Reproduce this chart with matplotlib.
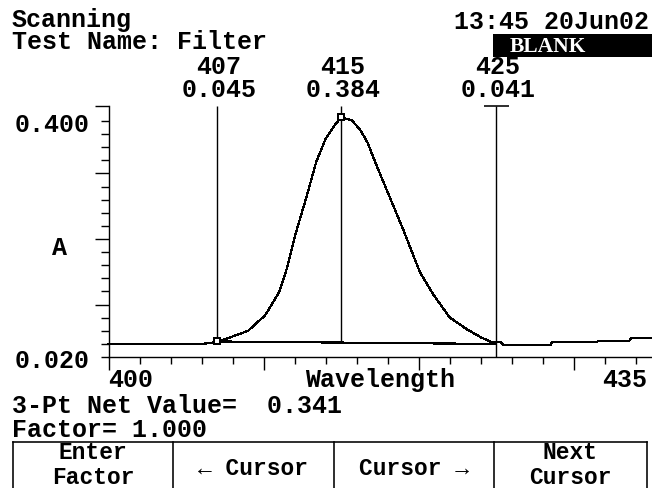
import matplotlib
matplotlib.use("Agg")
import matplotlib.pyplot as plt
import numpy as np
from matplotlib.lines import Line2D
from matplotlib.patches import Rectangle
import matplotlib.transforms as mtransforms

# ---------------- data ----------------
wavelength = [400, 402, 404, 406, 407, 408, 409, 410.1, 411, 411.5, 412.1, 412.8,
              413.4, 414, 414.5, 415, 415.7, 416.2, 416.7, 417.3, 418.2, 419,
              420.1, 421, 422, 423.1, 424, 424.7, 425.3, 425.5, 428.5, 428.6,
              431.5, 431.6, 433.6, 433.7, 435]
absorbance = [0.041, 0.041, 0.041, 0.041, 0.044, 0.053, 0.062, 0.087, 0.124, 0.162,
              0.221, 0.280, 0.334, 0.371, 0.390, 0.406, 0.401, 0.387, 0.366, 0.328,
              0.274, 0.226, 0.156, 0.119, 0.084, 0.065, 0.052, 0.044, 0.044, 0.039,
              0.039, 0.044, 0.044, 0.046, 0.046, 0.050, 0.050]
cursor_wl = [407, 415, 425]
cursor_abs = [0.045, 0.384, 0.041]
x_min, x_max = 400, 435
y_min, y_max = 0.020, 0.400
x_major_ticks = [400, 410, 420, 430]
x_minor_ticks = list(range(402, 435, 2))
x_tick_labels = ["400", "435"]
y_tick_labels = ["0.020", "0.400"]
header_left = ["Scanning", "Test Name: Filter"]
timestamp = "13:45 20Jun02"
status = "BLANK"
net_value = 0.341
factor = 1.000
buttons = [["Enter", "Factor"], ["\u2190 Cursor"], ["Cursor \u2192"], ["Next", "Cursor"]]

# ---------------- layout ----------------
W, H = 652, 489
fig = plt.figure(figsize=(W / 100, H / 100), dpi=100)
fig.patch.set_facecolor("white")


def fx(px):
    return px / W


def fy(py):
    return 1 - py / H


PX = 0.72  # points per pixel
mono = dict(family=["Liberation Mono", "DejaVu Sans Mono"], weight="bold", size=18)
mono_btn = dict(mono, size=16.5)

ax_left, ax_right, ax_top, ax_bottom = 108.5, 651.0, 107.0, 358.0
ax = fig.add_axes([fx(ax_left), fy(ax_bottom), (ax_right - ax_left) / W,
                   (ax_bottom - ax_top) / H])
ax.set_facecolor("white")
# 0.400 sits 236 px above 0.020 while the axis line reaches 251 px
y_top = y_min + (y_max - y_min) * (ax_bottom - ax_top) / (ax_bottom - 122.0)
ax.set_xlim(x_min, x_max)
ax.set_ylim(y_min, y_top)

for s in ["top", "right"]:
    ax.spines[s].set_visible(False)
for s in ["left", "bottom"]:
    ax.spines[s].set_linewidth(1.4 * PX)
    ax.spines[s].set_color("black")

minor_y = np.linspace(y_min, y_max, 19)
ax.set_yticks(list(minor_y[[4, 9, 14]]) + [y_top])
ax.set_yticks(minor_y, minor=True)
ax.set_xticks(x_major_ticks)
ax.set_xticks(x_minor_ticks, minor=True)
ax.set_xticklabels([])
ax.set_yticklabels([])
ax.tick_params(which="major", direction="out", length=14 * PX, width=1.4 * PX, color="black")
ax.tick_params(which="minor", direction="out", length=8 * PX, width=1.4 * PX, color="black")
ax.tick_params(axis="x", which="major", length=13.5 * PX)
ax.tick_params(axis="x", which="minor", length=7 * PX)

# spectrum
ax.plot(wavelength, absorbance, color="black", lw=1.2 * PX, antialiased=False,
        clip_on=False, zorder=3)

# baseline between outer cursors
ax.plot([cursor_wl[0], cursor_wl[2]], [cursor_abs[0], cursor_abs[2]], color="black",
        lw=1.2 * PX, antialiased=False, zorder=3)

# cursors
base_mid = np.interp(cursor_wl[1], [cursor_wl[0], cursor_wl[2]], [cursor_abs[0], cursor_abs[2]])
peak_val = np.interp(cursor_wl[1], wavelength, absorbance)
ax.vlines(cursor_wl[0], cursor_abs[0], y_top, color="black", lw=1.4 * PX, zorder=4)
ax.vlines(cursor_wl[1], base_mid, y_top, color="black", lw=1.4 * PX, zorder=4)
ax.vlines(cursor_wl[2], y_min, y_top, color="black", lw=1.4 * PX, zorder=4)
ax.plot([cursor_wl[2]], [y_top], marker="_", ms=25 * PX, mew=1.6 * PX, color="black",
        clip_on=False, zorder=5)
ax.plot([cursor_wl[0], cursor_wl[1]], [cursor_abs[0], peak_val], ls="none", marker="s",
        ms=6 * PX, mfc="white", mec="black", mew=2 * PX, zorder=5, clip_on=False)

# cursor readouts (wavelength above value)
for wl, val in zip(cursor_wl, cursor_abs):
    ax.annotate(f"{wl}\n{val:.3f}", xy=(wl, 1), xycoords=("data", "axes fraction"),
                xytext=(2 * PX, 10 * PX), textcoords="offset points",
                ha="center", va="baseline", multialignment="center",
                linespacing=0.95, annotation_clip=False, **mono)

# axis labels
blend_xd = mtransforms.blended_transform_factory(ax.transData, ax.transAxes)
lab_y = -(387 - ax_bottom) / (ax_bottom - ax_top)
ax.text(x_min, lab_y, x_tick_labels[0], transform=blend_xd, ha="left", va="baseline", **mono)
ax.text((647 - ax_left) / (ax_right - ax_left), lab_y, x_tick_labels[1],
        transform=ax.transAxes, ha="right", va="baseline", **mono)
ax.set_xlabel("Wavelength", va="baseline", **mono)
ax.xaxis.set_label_coords(0.5, lab_y)

for lab, val in zip(y_tick_labels, [y_min, y_max]):
    ax.annotate(lab, xy=(0, val), xycoords=("axes fraction", "data"),
                xytext=(-18.5 * PX, -1 * PX), textcoords="offset points",
                ha="right", va="center_baseline", annotation_clip=False, **mono)
ax.set_ylabel("A", rotation=0, ha="center", va="center_baseline", **mono)
ax.yaxis.set_label_coords((60 - ax_left) / (ax_right - ax_left),
                          (ax_bottom - 246) / (ax_bottom - ax_top))

# ---------------- header ----------------
fig.text(fx(12), fy(49), "\n".join(header_left), ha="left", va="baseline",
         linespacing=0.9, **mono)
fig.text(fx(649), fy(29), timestamp, ha="right", va="baseline", **mono)
fig.add_artist(Rectangle((fx(493), fy(58)), fx(652) - fx(493), (58 - 35) / H,
                         transform=fig.transFigure, facecolor="black", edgecolor="none"))
fig.text(fx(548), fy(52.5), status, ha="center", va="baseline", color="white",
         family=["Liberation Serif", "DejaVu Serif"], weight="bold", size=15.5)

# ---------------- footer ----------------
fig.text(fx(12), fy(413), f"3-Pt Net Value=  {net_value:.3f}", ha="left", va="baseline", **mono)
fig.text(fx(12), fy(437), f"Factor= {factor:.3f}", ha="left", va="baseline", **mono)

edges = [13, 173, 334, 494, 647]
btn_top = 443
lw_btn = 1.6 * PX
fig.add_artist(Line2D([fx(edges[0]), fx(edges[-1])], [fy(btn_top), fy(btn_top)],
                      transform=fig.transFigure, color="black", lw=lw_btn))
for e in edges:
    fig.add_artist(Line2D([fx(e), fx(e)], [fy(btn_top), fy(H + 2)],
                          transform=fig.transFigure, color="black", lw=lw_btn))
for i, lines in enumerate(buttons):
    cx = (edges[i] + edges[i + 1]) / 2
    if len(lines) == 1:
        fig.text(fx(cx), fy(475), lines[0], ha="center", va="baseline", **mono_btn)
    else:
        fig.text(fx(cx), fy(484), "\n".join(lines), ha="center", va="baseline",
                 multialignment="center", linespacing=1.1, **mono_btn)

fig.savefig("out.png", dpi=100, facecolor="white")
